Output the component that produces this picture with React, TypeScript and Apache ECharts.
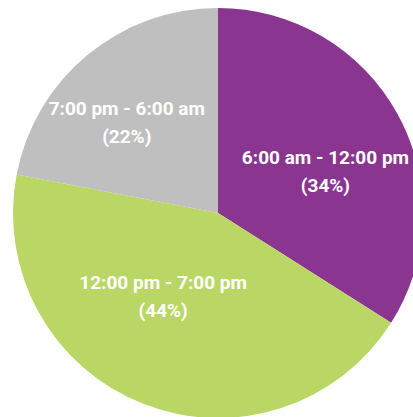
import React, { useEffect, useRef } from "react";
import * as echarts from "echarts";

const categories = ["6:00 am - 12:00 pm", "12:00 pm - 7:00 pm", "7:00 pm - 6:00 am"];
const shares = [34, 44, 22];
const colors = ["#8A358F", "#BAD766", "#BFBFBF"];
const labelShift = [
  [15, 9],
  [-16, -15],
  [-24, -9],
];

export default function App() {
  const ref = useRef<HTMLDivElement>(null);
  useEffect(() => {
    if (!ref.current) return;
    const chart = echarts.init(ref.current, undefined, { renderer: "svg" });
    chart.setOption({
      animation: false,
      series: [
        {
          type: "pie",
          center: [218, 213],
          radius: 205,
          startAngle: 90,
          clockwise: true,
          silent: true,
          itemStyle: { borderWidth: 0 },
          label: {
            show: true,
            position: "inside",
            formatter: "{b}\n({d}%)",
            color: "#ffffff",
            fontFamily: "Roboto, 'Liberation Sans', sans-serif",
            fontWeight: "bold",
            fontSize: 19,
            lineHeight: 28,
            align: "center",
          },
          labelLayout: (params: any) => ({
            dx: labelShift[params.dataIndex][0],
            dy: labelShift[params.dataIndex][1],
          }),
          emphasis: { disabled: true },
          data: categories.map((name, i) => ({
            name,
            value: shares[i],
            itemStyle: { color: colors[i] },
          })),
        },
      ],
    });
    return () => chart.dispose();
  }, []);
  return (
    <div
      ref={ref}
      style={{ position: "absolute", left: 0, top: 0, width: 413, height: 417 }}
    />
  );
}
